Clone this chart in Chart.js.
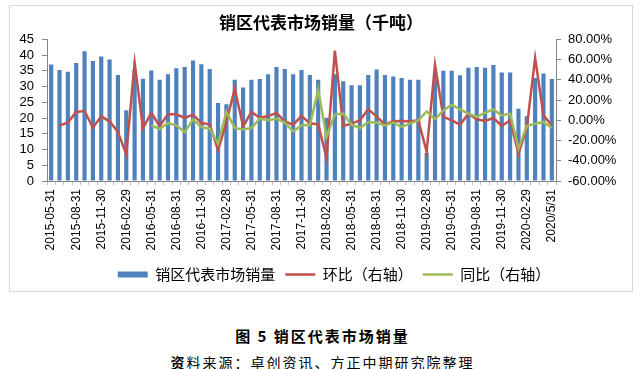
<!DOCTYPE html>
<html>
<head>
<meta charset="utf-8">
<script src="https://cdn.jsdelivr.net/npm/chart.js@4.4.0/dist/chart.umd.min.js"></script>
<style>
  body { margin: 0; background: #fff; width: 641px; height: 369px; position: relative; overflow: hidden; font-family: "Noto Sans CJK SC", sans-serif; }
  #box { position: absolute; left: 9px; top: 5px; width: 622px; height: 285px; border: 1px solid #d9d9d9; }
  #cap1 { position: absolute; left: 0; width: 645px; top: 327px; line-height: 18px; text-align: center; font-size: 15px; font-weight: bold; letter-spacing: 2px; }
  #cap2 { position: absolute; left: 0; width: 645px; top: 353px; line-height: 18px; text-align: center; font-size: 14px; letter-spacing: 2px; }
  #cap2 u { text-decoration: underline dotted #70ad47; }
</style>
</head>
<body>
<div id="box"><canvas id="chart" width="622" height="285"></canvas></div>
<div id="cap1">图 5 销区代表市场销量</div>
<div id="cap2"><b>资</b>料来源：<u>卓创资讯</u>、方正中期研究院整理</div>
<script>
// months, end of month
const labels = [
  '2015-05-31','2015-06-30','2015-07-31','2015-08-31','2015-09-30','2015-10-31','2015-11-30','2015-12-31',
  '2016-01-31','2016-02-29','2016-03-31','2016-04-30','2016-05-31','2016-06-30','2016-07-31','2016-08-31',
  '2016-09-30','2016-10-31','2016-11-30','2016-12-31','2017-01-31','2017-02-28','2017-03-31','2017-04-30',
  '2017-05-31','2017-06-30','2017-07-31','2017-08-31','2017-09-30','2017-10-31','2017-11-30','2017-12-31',
  '2018-01-31','2018-02-28','2018-03-31','2018-04-30','2018-05-31','2018-06-30','2018-07-31','2018-08-31',
  '2018-09-30','2018-10-31','2018-11-30','2018-12-31','2019-01-31','2019-02-28','2019-03-31','2019-04-30',
  '2019-05-31','2019-06-30','2019-07-31','2019-08-31','2019-09-30','2019-10-31','2019-11-30','2019-12-31',
  '2020-01-31','2020-02-29','2020-03-31','2020-04-30','2020/5/31'
];

// 销区代表市场销量 (千吨)
const sales = [
  37.0, 35.3, 34.7, 37.5, 41.2, 38.1, 39.6, 38.6, 33.7, 22.5,
  35.3, 32.5, 35.1, 32.2, 33.9, 35.8, 36.2, 38.3, 37.1, 35.6,
  24.8, 24.4, 32.2, 29.7, 32.2, 32.4, 33.9, 36.2, 35.6, 33.9,
  35.3, 33.7, 32.2, 20.1, 33.9, 31.7, 30.4, 30.4, 33.7, 35.4,
  33.7, 33.2, 32.7, 32.2, 32.2, 9.0, 34.2, 35.0, 35.0, 33.6,
  36.0, 36.2, 36.0, 36.9, 34.5, 34.5, 23.0, 20.6, 32.7, 34.2,
  32.4
];

// 环比 (%)
const mom = [
  null, -5.0, -2.3, 8.2, 9.2, -7.3, 3.9, -1.0, -11.6, -33.6,
  57.0, -7.6, 7.2, -5.6, 5.9, 5.9, 2.3, 5.6, -2.7, -4.0,
  -29.7, -1.6, 31.2, -6.0, 8.2, 2.6, 4.2, 7.2, -1.0, -4.3,
  4.2, -3.0, -4.0, -37.0, 69.0, -5.6, -3.3, 0.0, 10.8, 3.9,
  -4.3, -1.0, -0.7, -1.0, 0.0, -31.0, 55.0, 3.3, 0.0, -4.3,
  6.6, 1.0, -0.7, 2.3, -5.6, 0.0, -33.0, -7.3, 61.5, 4.9,
  -5.0
];

// 同比 (%)
const yoy = [
  null, null, null, null, null, null, null, null, null, null,
  null, null, -5.0, -8.6, -2.7, -5.0, -11.6, 1.0, -6.6, -8.3,
  -23.0, 8.5, -7.6, -9.0, -7.6, 1.6, 0.0, 1.6, -2.3, -11.0,
  -5.0, -5.0, 30.3, -16.5, 5.9, 6.6, -4.3, -7.6, -1.6, -2.3,
  -5.0, -2.3, -6.6, -3.3, 0.0, 8.8, 1.0, 9.8, 15.4, 10.8,
  6.6, 3.3, 7.5, 10.8, 4.9, 6.6, -28.0, -5.6, -3.3, -1.6,
  -7.6
];

const numFont = { family: '"Liberation Sans", Arial, sans-serif', size: 13, lineHeight: 1 };
const cjk = '"Noto Sans CJK SC", sans-serif';

// nudge legend to where the original sits
const legendShift = {
  id: 'legendShift',
  afterLayout(chart) {
    const l = chart.legend;
    l.left += 13; l.right += 13;
    l.top += 1; l.bottom += 1;
  }
};

const ctx = document.getElementById('chart').getContext('2d');
new Chart(ctx, {
  data: {
    labels: labels,
    datasets: [
      {
        type: 'bar',
        label: '销区代表市场销量',
        data: sales,
        backgroundColor: '#4f81bd',
        borderWidth: 0,
        barPercentage: 0.5,
        categoryPercentage: 1.0,
        yAxisID: 'y',
        order: 3
      },
      {
        type: 'line',
        label: '环比（右轴）',
        data: mom,
        borderColor: '#c0504d',
        backgroundColor: '#c0504d',
        borderWidth: 2.5,
        pointRadius: 0,
        tension: 0,
        yAxisID: 'y1',
        order: 2
      },
      {
        type: 'line',
        label: '同比（右轴）',
        data: yoy,
        borderColor: '#9bbb59',
        backgroundColor: '#9bbb59',
        borderWidth: 2.5,
        pointRadius: 0,
        tension: 0,
        yAxisID: 'y1',
        order: 1
      }
    ]
  },
  options: {
    responsive: false,
    animation: false,
    layout: { padding: 0 },
    plugins: {
      title: {
        display: true,
        text: '销区代表市场销量（千吨）',
        color: '#000',
        font: { family: cjk, size: 17, weight: 'bold', lineHeight: 1.2 },
        padding: { top: 6, bottom: 7 }
      },
      legend: {
        position: 'bottom',
        labels: {
          color: '#000',
          font: { family: cjk, size: 15 },
          usePointStyle: true,
          pointStyleWidth: 30,
          boxHeight: 6,
          padding: 10,
          sort: (a, b) => a.datasetIndex - b.datasetIndex,
          generateLabels(chart) {
            const items = Chart.defaults.plugins.legend.labels.generateLabels(chart);
            items.forEach(it => { it.pointStyle = it.datasetIndex === 0 ? 'rect' : 'line'; });
            return items;
          }
        }
      },
      tooltip: { enabled: false }
    },
    scales: {
      x: {
        offset: true,
        grid: { display: true, drawOnChartArea: false, drawTicks: true, tickLength: 4, color: '#bfbfbf', offset: true },
        border: { display: true, color: '#868686' },
        ticks: {
          autoSkip: false,
          minRotation: 90,
          maxRotation: 90,
          padding: 4,
          color: '#000',
          font: { family: numFont.family, size: 12 },
          callback: (v, i) => (i % 3 === 0 ? labels[i] : '')
        },
        afterFit(s) { s.height = 75; }
      },
      y: {
        position: 'left',
        min: 0,
        max: 45,
        ticks: { stepSize: 5, autoSkip: false, padding: 8, color: '#000', font: numFont },
        grid: { drawOnChartArea: false, drawTicks: true, tickLength: 5, color: '#868686' },
        border: { display: true, color: '#868686' },
        afterFit(s) { s.width = 37; }
      },
      y1: {
        position: 'right',
        min: -60,
        max: 80,
        ticks: { stepSize: 20, autoSkip: false, padding: 7, color: '#000', font: numFont, callback: v => v.toFixed(2) + '%' },
        grid: { drawOnChartArea: false, drawTicks: true, tickLength: 5, color: '#868686' },
        border: { display: true, color: '#868686' },
        afterFit(s) { s.width = 76; }
      }
    }
  },
  plugins: [legendShift]
});
</script>
</body>
</html>
